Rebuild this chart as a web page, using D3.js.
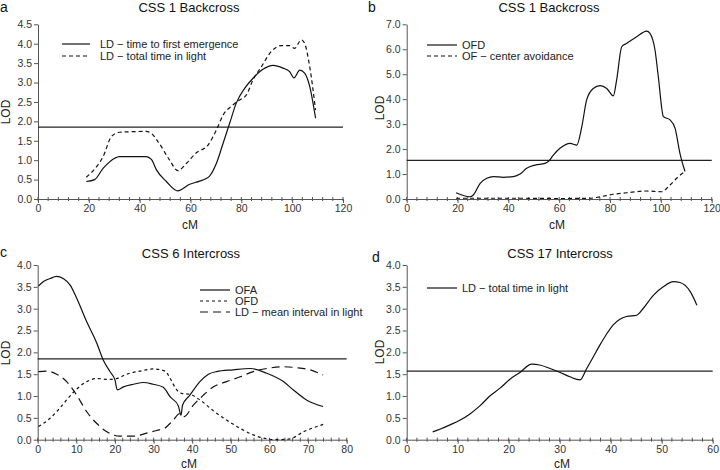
<!DOCTYPE html>
<html>
  <head>
    <script src="https://d3js.org/d3.v7.min.js"></script>
    <style type="text/css">
  body { margin:0; background:#fff; }
  svg { font-family: "Liberation Sans", Arial, sans-serif; }
  .axis path, .axis line { stroke:#555; }
  .axis text { font-size:10.5px; fill:#333; }
    </style>
  </head>
  <body>
  <div id="container"></div>
  <script type="text/javascript">

  // panel a: CSS 1 backcross, LD traits
  var aEmergence = [[19,0.45],[22.3,0.5],[25.6,0.79],[26.9,0.88],[30.2,1.05],[32,1.09],[42.6,1.09],[44.6,1.02],
    [46.6,0.75],[50.5,0.45],[55,0.21],[59.7,0.38],[63.6,0.46],[66.2,0.53],[67.5,0.59],[70.2,0.92],[72.8,1.43],
    [75.4,1.95],[78,2.47],[81.3,2.85],[84.6,3.11],[88.5,3.34],[92.5,3.44],[96.4,3.37],[99,3.28],[100.7,3.12],
    [103,3.32],[104.9,3.24],[106.9,2.9],[109.2,2.08]];
  var aTimeLight = [[19,0.56],[23,0.83],[25.6,1.09],[28.9,1.61],[32.1,1.72],[42.6,1.74],[44.6,1.69],[47.2,1.48],
    [51.8,1.0],[55,0.73],[58.4,0.92],[62.3,1.19],[66.9,1.39],[70.2,1.78],[72.8,2.16],[76.7,2.42],[79.3,2.55],
    [82,2.68],[84.6,3.07],[87.9,3.41],[91.8,3.8],[95.7,3.95],[99,3.95],[101,3.88],[103.6,4.1],[104.9,4.01],
    [106.9,3.41],[109.2,2.29]];

  // panel b: CSS 1 backcross, open field
  var bOFD = [[19.4,0.25],[24.9,0.09],[26.2,0.16],[28.9,0.63],[31.5,0.83],[34.1,0.9],[38,0.87],[42,0.9],[44.6,1.0],
    [47.2,1.23],[50.5,1.36],[54.4,1.43],[55.7,1.5],[57.7,1.76],[60.3,2.03],[64.3,2.23],[66.9,2.16],[68.9,2.9],
    [70.8,3.97],[73.4,4.43],[76.1,4.54],[78.7,4.43],[81.3,4.13],[82.6,4.77],[84.6,6.1],[86.6,6.24],[90.5,6.5],
    [94.4,6.73],[95.7,6.64],[97.7,5.97],[99,4.9],[101,3.3],[103.6,3.17],[105.6,2.83],[107.5,1.83],[109.5,1.1]];
  var bCenter = [[19.4,0.03],[30,0.03],[45,0.03],[60,0.02],[72,0.03],[76.1,0.09],[81.3,0.19],[86.6,0.25],
    [94.4,0.32],[100.3,0.29],[103.6,0.56],[106.9,0.9],[109.5,1.1]];

  // panel c: CSS 6 intercross
  var cOFA = [[0.2,3.52],[1.5,3.62],[3.2,3.69],[4.9,3.74],[6.6,3.69],[8.4,3.54],[10.1,3.24],[12.7,2.7],[15.3,2.21],
    [17,1.82],[18.7,1.56],[20,1.37],[20.6,1.14],[22.2,1.21],[24.8,1.27],[27.4,1.31],[29.9,1.27],[32.5,1.2],
    [34.3,0.98],[36.4,0.78],[37.1,0.56],[37.5,0.79],[39.4,1.02],[42,1.33],[44.2,1.5],[46.3,1.56],[50.6,1.6],
    [55,1.63],[59.3,1.52],[63.6,1.33],[66.2,1.14],[69.6,0.91],[73.9,0.76]];
  var cOFD = [[0.2,0.3],[3.2,0.49],[5.3,0.68],[7.5,0.91],[10.1,1.16],[12.7,1.33],[15.3,1.4],[18.7,1.38],[20.4,1.4],
    [23,1.5],[26.5,1.57],[29.9,1.62],[33,1.57],[34.3,1.4],[36,1.14],[37.3,1.06],[39.4,1.04],[42,0.91],[45.5,0.66],
    [48.9,0.45],[52.4,0.26],[55.8,0.11],[59.3,0.02],[61.9,0.0],[65.3,0.02],[68.8,0.18],[73.9,0.35]];
  var cInterval = [[0.2,1.56],[2.3,1.57],[4.9,1.5],[7.5,1.33],[10.1,1.02],[12.7,0.64],[15.3,0.37],[17.9,0.18],
    [21.3,0.08],[24.8,0.08],[28.2,0.15],[30.8,0.21],[33,0.27],[35.1,0.45],[36.8,0.6],[37.9,0.53],[40.3,0.79],
    [42.9,1.02],[45.5,1.21],[48.9,1.33],[52.4,1.44],[55.8,1.56],[59.3,1.63],[63.6,1.67],[67,1.65],[70.5,1.6],
    [73.9,1.48]];

  // panel d: CSS 17 intercross
  var dTimeLight = [[5.1,0.18],[6.5,0.24],[8.5,0.34],[10.5,0.45],[12.4,0.59],[14.4,0.78],[16.3,1.0],[18.3,1.18],
    [20.3,1.39],[22.2,1.54],[24.5,1.73],[26.1,1.71],[28.1,1.63],[30.1,1.54],[32,1.44],[34,1.37],[35.3,1.63],
    [36.6,1.9],[37.9,2.17],[39.2,2.42],[40.5,2.63],[41.8,2.76],[43.1,2.82],[45.1,2.85],[46.4,3.01],[48.4,3.31],
    [50.3,3.5],[52.3,3.62],[53.6,3.6],[55.6,3.39],[56.9,3.08]];

  var thresholds = [1.85, 1.55, 1.85, 1.57];

  var panels = [
    {letter:"a", title:"CSS 1 Backcross", x0:38, x1:343, y0:199, y1:24.3, xMax:120, xStep:20, yMax:4.5, yStep:0.5,
     thr:thresholds[0], lx:[62,90,100], ly:[44,56], letterPos:[0,12], titleX:189, titleY:12, lodX:6, lodY:112, cmX:190, cmY:229,
     series:[{d:aEmergence, dash:null, name:"LD \u2212 time to first emergence"},
             {d:aTimeLight, dash:"4,3", name:"LD \u2212 total time in light"}]},
    {letter:"b", title:"CSS 1 Backcross", x0:406.7, x1:711.7, y0:199, y1:24.3, xMax:120, xStep:20, yMax:7, yStep:1,
     thr:thresholds[1], lx:[427,457,462], ly:[45,56], letterPos:[368,12], titleX:549, titleY:12, lodX:380, lodY:108, cmX:557, cmY:229,
     series:[{d:bOFD, dash:null, name:"OFD"},
             {d:bCenter, dash:"4,3", name:"OF \u2212 center avoidance"}]},
    {letter:"c", title:"CSS 6 Intercross", x0:37.7, x1:346.7, y0:439.7, y1:265, xMax:80, xStep:10, yMax:4, yStep:0.5,
     thr:thresholds[2], lx:[200,230,235], ly:[290,301,312], letterPos:[0,257], titleX:191, titleY:258, lodX:6, lodY:353, cmX:189, cmY:468,
     series:[{d:cOFA, dash:null, name:"OFA"},
             {d:cOFD, dash:"3,3", name:"OFD"},
             {d:cInterval, dash:"8,5", name:"LD \u2212 mean interval in light"}]},
    {letter:"d", title:"CSS 17 Intercross", x0:406.7, x1:712.7, y0:439.7, y1:265, xMax:60, xStep:10, yMax:4, yStep:0.5,
     thr:thresholds[3], lx:[427,457,462], ly:[288], letterPos:[372,262], titleX:560, titleY:258, lodX:380, lodY:352, cmX:562, cmY:468,
     series:[{d:dTimeLight, dash:null, name:"LD \u2212 total time in light"}]}
  ];

  var svg = d3.select("#container").append("svg")
    .attr("width", 720).attr("height", 470);

  panels.forEach(function(p) {
    var g = svg.append("g");
    var x = d3.scaleLinear().domain([0, p.xMax]).range([p.x0, p.x1]);
    var y = d3.scaleLinear().domain([0, p.yMax]).range([p.y0, p.y1]);

    // minor ticks on x axis (5 intervals per labelled step)
    var minor = d3.range(0, p.xMax + 0.001, p.xStep / 5);
    g.append("g").selectAll("line").data(minor).enter().append("line")
      .attr("x1", function(d) { return x(d); }).attr("x2", function(d) { return x(d); })
      .attr("y1", p.y0 - 2).attr("y2", p.y0 + 2)
      .attr("stroke", "#555");

    g.append("g").attr("class", "axis")
      .attr("transform", "translate(0," + p.y0 + ")")
      .call(d3.axisBottom(x).tickValues(d3.range(0, p.xMax + 0.001, p.xStep)).tickFormat(d3.format("d"))
        .tickSize(4).tickPadding(2).tickSizeOuter(0));

    g.append("g").attr("class", "axis")
      .attr("transform", "translate(" + p.x0 + ",0)")
      .call(d3.axisLeft(y).tickValues(d3.range(0, p.yMax + 0.001, p.yStep)).tickFormat(d3.format(".1f"))
        .tickSize(4).tickPadding(2).tickSizeOuter(0));

    // significance threshold
    g.append("line")
      .attr("x1", x(0)).attr("x2", x(p.xMax))
      .attr("y1", y(p.thr)).attr("y2", y(p.thr))
      .attr("stroke", "#222").attr("stroke-width", 1.2);

    var line = d3.line()
      .x(function(d) { return x(d[0]); })
      .y(function(d) { return y(d[1]); })
      .curve(d3.curveMonotoneX);

    p.series.forEach(function(s, i) {
      g.append("path")
        .attr("d", line(s.d))
        .attr("fill", "none")
        .attr("stroke", "#111")
        .attr("stroke-width", 1.2)
        .attr("stroke-dasharray", s.dash);

      g.append("line")
        .attr("x1", p.lx[0]).attr("x2", p.lx[1])
        .attr("y1", p.ly[i]).attr("y2", p.ly[i])
        .attr("stroke", "#111").attr("stroke-width", 1.2)
        .attr("stroke-dasharray", s.dash);
      g.append("text")
        .attr("x", p.lx[2]).attr("y", p.ly[i] + 4)
        .attr("font-size", "11px").attr("fill", "#222")
        .text(s.name);
    });

    g.append("text")
      .attr("x", p.letterPos[0]).attr("y", p.letterPos[1])
      .attr("font-size", "14px").attr("fill", "#111")
      .text(p.letter);

    g.append("text")
      .attr("x", p.titleX).attr("y", p.titleY)
      .attr("text-anchor", "middle")
      .attr("font-size", "13px").attr("fill", "#111")
      .text(p.title);

    g.append("text")
      .attr("x", p.cmX).attr("y", p.cmY)
      .attr("text-anchor", "middle")
      .attr("font-size", "12px").attr("fill", "#222")
      .text("cM");

    g.append("text")
      .attr("transform", "translate(" + p.lodX + "," + p.lodY + ") rotate(-90)")
      .attr("text-anchor", "middle")
      .attr("dy", "0.35em")
      .attr("font-size", "12px").attr("fill", "#222")
      .text("LOD");
  });

  </script>
  </body>
</html>
